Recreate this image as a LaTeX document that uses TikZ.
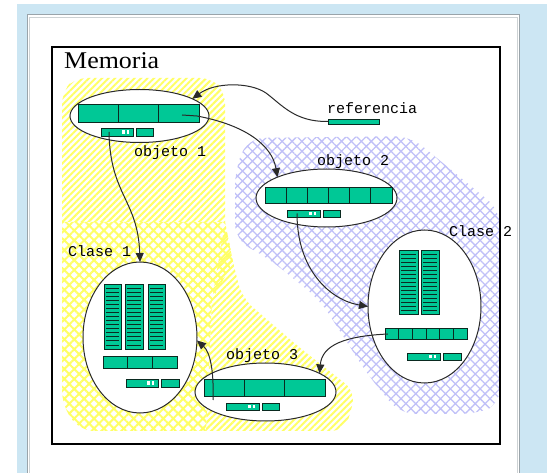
\documentclass[tikz,border=0pt]{standalone}
\usepackage{fontspec}
\setmainfont{Liberation Serif}
\setmonofont{Liberation Mono}
\usetikzlibrary{shapes.geometric,arrows.meta,patterns.meta}
\definecolor{panelblue}{HTML}{CCE6F3}
\definecolor{panelgray}{HTML}{9AA4AA}
\definecolor{cellgreen}{HTML}{00C896}
\definecolor{celledge}{HTML}{0A2A20}
\definecolor{hatchyellow}{HTML}{FFFF66}
\definecolor{hatchblue}{HTML}{C0C0F8}
\definecolor{inkgray}{HTML}{2A2A2A}

\tikzset{
  cell/.style={fill=cellgreen,draw=celledge,line width=0.9pt},
  objell/.style={ellipse,draw=inkgray,fill=white,line width=1pt,inner sep=0pt,outer sep=0pt},
  lbl/.style={font=\ttfamily\fontsize{15}{15}\selectfont,inner sep=0pt,anchor=base west},
  conn/.style={draw=inkgray,line width=1pt,-{Triangle[length=9pt,width=8pt]}},
  yhatch/.style={pattern={Lines[angle=45,distance=4.6pt,line width=2pt]},pattern color=hatchyellow},
  ycross/.style={pattern={Hatch[angle=45,distance=7pt,line width=2pt]},pattern color=hatchyellow},
  bcross/.style={pattern={Hatch[angle=45,distance=7pt,line width=1.3pt]},pattern color=hatchblue}
}

\newcommand\cellrow[5]{%
  \foreach \k in {1,...,#5}{%
    \pgfmathsetmacro\xa{#1+(#3-#1)*(\k-1)/#5}%
    \pgfmathsetmacro\xb{#1+(#3-#1)*\k/#5}%
    \draw[cell] (\xa,#2) rectangle (\xb,#4);
  }}
\newcommand\ptrbar[4]{%
  \draw[cell] (#1,#2) rectangle (#3,#4);
  \fill[white] ({#3-11},{#2+1.6}) rectangle ({#3-8.5},{#4-1.6});
  \fill[white] ({#3-6.5},{#2+1.6}) rectangle ({#3-4},{#4-1.6});}
\newcommand\tallcol[4]{%
  \draw[cell] (#1,#2) rectangle (#3,#4);
  \foreach \i in {1,...,15}{%
    \pgfmathsetmacro\yy{#2+(#4-#2)*\i/16}%
    \draw[celledge,line width=0.8pt] ({#1+2},\yy) -- ({#3-2},\yy);
  }}

\begin{document}
\begin{tikzpicture}[x=1pt,y=-1pt]
\useasboundingbox (0,0) rectangle (547,473);
% window panel
\fill[panelblue] (17,4) rectangle (547,473);
\fill[white] (27,15) rectangle (519,473);
\draw[panelgray,line width=1pt] (27,475) -- (27,15) -- (519,15) -- (519,475);
\draw[panelgray!50,line width=0.8pt] (29,475) -- (29,17) -- (517,17) -- (517,475);

% hatched areas
\fill[yhatch] [rounded corners=12pt] (62,222) -- (62,92) -- (75,78) -- (212,78) -- (225,92) [sharp corners] -- (225,222) -- cycle;
\fill[ycross] [sharp corners] (62,222) -- (225,222) -- (233,262) -- (212,300) -- (206,431) [rounded corners=14pt] -- (80,431) -- (62,405) [sharp corners] -- cycle;
\fill[yhatch] [sharp corners] (225,222) -- (233,262) [rounded corners=14pt] -- (242,298) -- (300,348) -- (356,392) -- (345,431) [sharp corners] -- (206,431) -- (212,300) -- cycle;
\fill[bcross] [rounded corners=16pt] (235,170) -- (248,138) -- (410,136) -- (500,210) -- (500,405) -- (475,414) -- (400,414) -- (368,375) -- (320,300) -- (268,258) -- (235,240) -- cycle;

% memory frame
\draw[black,line width=2.6pt] (52,47) rectangle (500,444);
\node[font=\fontsize{24}{24}\selectfont,inner sep=0pt,anchor=base west,xscale=1.08] (mem) at (64,68.5) {Memoria};

% ellipses
\node[objell,minimum width=139pt,minimum height=53pt] (o1) at (139.5,116) {};
\node[objell,minimum width=141pt,minimum height=58pt] (o2) at (326.5,198) {};
\node[objell,minimum width=113pt,minimum height=153pt] (c2) at (424.5,306.5) {};
\node[objell,minimum width=114pt,minimum height=151pt] (c1) at (140,337.5) {};
\node[objell,minimum width=141pt,minimum height=58pt] (o3) at (265.5,392) {};

% contents
\cellrow{78}{104}{199}{122}{3}
\ptrbar{101}{128}{133}{136}
\draw[cell] (136,128) rectangle (153,136);

\cellrow{265}{187}{392}{203}{6}
\ptrbar{287}{210}{320}{217}
\draw[cell] (323,210) rectangle (340,217);

\tallcol{399}{250}{418}{314}
\tallcol{421}{250}{439}{314}
\cellrow{385}{328}{467}{339}{6}
\ptrbar{407}{353}{440}{360}
\draw[cell] (443,353) rectangle (461,360);

\tallcol{104}{284}{121}{349}
\tallcol{125}{284}{143}{349}
\tallcol{148}{284}{165}{349}
\cellrow{103}{356}{177}{368}{3}
\ptrbar{126}{379}{158}{387}
\draw[cell] (161,379) rectangle (179,387);

\cellrow{204}{379}{325}{396}{3}
\ptrbar{226}{403}{259}{410}
\draw[cell] (262,403) rectangle (279,410);

\draw[cell] (328,119) rectangle (379,124);

% labels
\node[lbl] (l1) at (134,157) {objeto 1};
\node[lbl] (lr) at (327,114) {referencia};
\node[lbl] (l2) at (317,166) {objeto 2};
\node[lbl] (lc2) at (449,237) {Clase 2};
\node[lbl] (lc1) at (68,257) {Clase 1};
\node[lbl] (l3) at (226,360) {objeto 3};

% connector start points
\coordinate (refL) at (328,121.5);
\coordinate (o1p) at (182,115);
\coordinate (o1q) at (109,132);
\coordinate (o2q) at (297,213.5);
\coordinate (c2p) at (388,334);
\coordinate (o3p) at (213,400);

% connectors
\draw[conn] (refL) .. controls (295,122) and (282,105) .. (266,93) .. controls (250,82) and (215,82) .. (o1.18);
\draw[conn] (o1p) -- ++(15,1) .. controls (245,125) and (272,145) .. (o2.157);
\draw[conn] (o1q) .. controls (110,195) and (138,200) .. (c1.north);
\draw[conn] (o2q) .. controls (297,270) and (330,300) .. (c2.west);
\draw[conn] (c2p) .. controls (345,336) and (322,345) .. (o3.19);
\draw[conn] (o3p) .. controls (214,370) and (210,352) .. (c1.-3);
\end{tikzpicture}
\end{document}
